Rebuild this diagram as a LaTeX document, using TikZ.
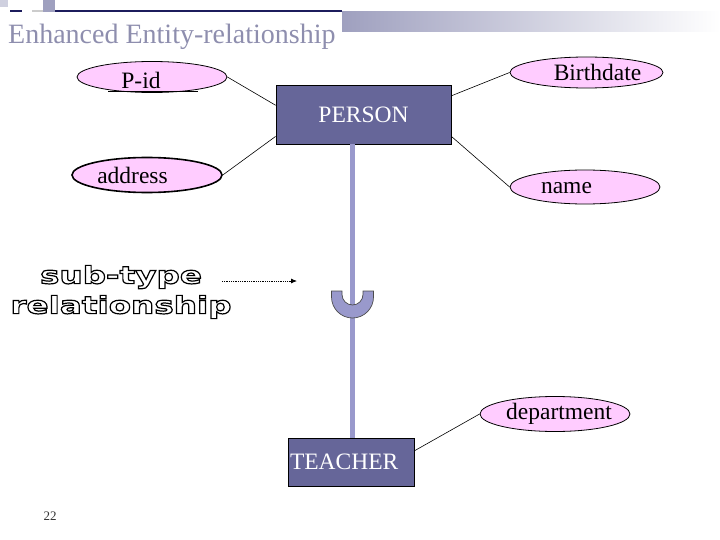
\documentclass[tikz,border=0pt]{standalone}
\usepackage{fontspec}
\setmainfont{Liberation Serif}
\newfontfamily\widefont{DejaVu Sans}[FakeStretch=1.36]
\usetikzlibrary{
  arrows.meta,
  shapes.geometric,
  positioning,
  calc
}
\definecolor{eerEntity}{HTML}{666699}
\definecolor{eerAttr}{HTML}{FFCCFF}
\definecolor{eerLink}{HTML}{9999CC}
\definecolor{eerTitle}{HTML}{8E8EAE}
\definecolor{eerBar}{HTML}{9FA0BF}
\definecolor{eerNavy}{HTML}{1C1C5C}
\newcommand{\outlinetext}[1]{\special{pdf:literal direct 1 Tr 1.2 w}#1\special{pdf:literal direct 0 Tr}}
\tikzset{
  entity/.style={
    draw=black, fill=eerEntity, text=white, line width=0.8pt,
    font=\fontsize{23.5}{27}\selectfont, inner sep=2pt
  },
  attr/.style={
    draw=black, ellipse, fill=eerAttr, line width=0.8pt,
    minimum width=150pt, minimum height=31pt, inner sep=0pt
  },
  attrtext/.style={font=\fontsize{23.5}{27}\selectfont, inner sep=0pt},
  link/.style={line width=0.6pt, black},
  isa/.style={line width=5pt, eerLink},
  cupshape/.style={fill=eerLink, draw=black!70, line width=0.7pt},
  subarrow/.style={-{Latex[length=6pt, width=5pt]}, densely dotted, line width=0.8pt},
  subtype/.style={align=center, font=\widefont\bfseries\fontsize{24}{30}\selectfont, inner sep=0pt},
  slidetitle/.style={anchor=base west, font=\fontsize{28}{32}\selectfont, text=eerTitle, inner sep=0pt},
  pagenum/.style={font=\fontsize{13}{15}\selectfont, text=black!80, inner sep=0pt}
}
\begin{document}
\begin{tikzpicture}[x=1pt, y=-1pt]
  \useasboundingbox (0,0) rectangle (720,540);
  % header
  \fill[eerBar!50] (0,0) rectangle (8,7);
  \fill[eerBar] (43,0) rectangle (55,12);
  \draw[eerNavy, line width=1.5pt] (10,11) -- (22,11);
  \draw[black!20, line width=2pt] (32,11) -- (43,11);
  \draw[eerNavy, line width=1.5pt] (55,11) -- (342,11);
  \shade[left color=eerBar, right color=white] (342,12) rectangle (720,32);
  \node[slidetitle] (title) at (8,44) {Enhanced Entity-relationship};

  % entities
  \node[entity, minimum width=175pt, minimum height=59pt] (person) at (363.5,114.5) {PERSON};
  \node[entity, text width=122pt, minimum height=48pt, align=left] (teacher) at (351,462) {TEACHER};

  % attributes
  \node[attr] (pid) at (152,77) {};
  \node[attrtext] (pidtxt) at ($(pid)+(-11,3)$) {P-id};
  \draw[line width=0.8pt] ($(pid)+(-44,14.5)$) -- ($(pid)+(46,14.5)$);
  \node[attr, minimum width=153pt] (bday) at (586.5,72.5) {};
  \node[attrtext] (bdaytxt) at ($(bday)+(11,0)$) {Birthdate};
  \node[attr, line width=1.6pt, minimum height=35pt] (addr) at (147,175) {};
  \node[attrtext] (addrtxt) at ($(addr)+(-14.5,0)$) {address};
  \node[attr, minimum height=34pt] (name) at (585,187) {};
  \node[attrtext] (nametxt) at ($(name)+(-18.5,1)$) {name};
  \node[attr, minimum height=35pt] (dept) at (555,414) {};
  \node[attrtext] (depttxt) at ($(dept)+(4,0)$) {department};

  \draw[link] (pid.east) -- (person.174);
  \draw[link] (bday.west) -- (person.12);
  \draw[link] (addr.east) -- (person.194);
  \draw[link] (name.west) -- (person.-14);
  \draw[link] (dept.west) -- (teacher.10);

  % sub-type link
  \coordinate (cup) at (352.5,291);
  \draw[isa] (person.south -| cup) -- (teacher.north -| cup);
  \filldraw[cupshape] ($(cup)+(-21,0)$) -- ++(0,6) arc[start angle=180, end angle=0, radius=21]
    -- ++(0,-6) -- ++(-10.5,0) -- ++(0,3.5) arc[start angle=0, end angle=180, radius=10.5]
    -- ++(0,-3.5) -- cycle;

  \coordinate (subtail) at (222,281);
  \coordinate (subtip) at (297,281);
  \draw[subarrow] (subtail) -- (subtip);

  \node[pagenum] (pagenum) at (50,516) {22};
  \node[subtype] (subtype) at (121,292) {\outlinetext{sub-type}\\\outlinetext{relationship}};
\end{tikzpicture}
\end{document}
